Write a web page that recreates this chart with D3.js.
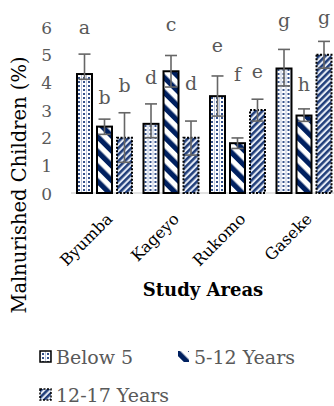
<!DOCTYPE html>
<html><head><meta charset="utf-8">
<script src="https://cdn.jsdelivr.net/npm/d3@7"></script>
<style>body{margin:0;background:#fff}svg{display:block}</style>
</head><body><div id="chart"></div>
<script>
const categories = ["Byumba", "Kageyo", "Rukomo", "Gaseke"];
const seriesNames = ["Below 5", "5-12 Years", "12-17 Years"];
const below5 = [4.3, 2.5, 3.5, 4.5];
const age5to12 = [2.4, 4.4, 1.8, 2.8];
const age12to17 = [2.0, 2.0, 3.0, 5.0];
const errUpBelow5 = [0.72, 0.72, 0.73, 0.69];
const errUp5to12 = [0.27, 0.57, 0.19, 0.24];
const errUp12to17 = [0.9, 0.6, 0.39, 0.48];
const errDownBelow5 = [0.19, 0.5, 0.72, 0.63];
const errDown5to12 = [0.28, 0.57, 0.19, 0.21];
const errDown12to17 = [0.89, 0.63, 0.4, 0.49];
const lettersBelow5 = ["a", "d", "e", "g"];
const letters5to12 = ["b", "c", "f", "h"];
const letters12to17 = ["b", "d", "e", "g"];
const letterLevelBelow5 = [5.93, 4.12, 5.28, 6.18];
const letterLevel5to12 = [3.4, 6.04, 4.23, 3.85];
const letterLevel12to17 = [3.84, 3.9, 4.34, 6.3];
const yTicks = [0, 1, 2, 3, 4, 5, 6];

const series = [
  {name: seriesNames[0], values: below5, up: errUpBelow5, down: errDownBelow5, letters: lettersBelow5, levels: letterLevelBelow5, pat: "p0"},
  {name: seriesNames[1], values: age5to12, up: errUp5to12, down: errDown5to12, letters: letters5to12, levels: letterLevel5to12, pat: "p1"},
  {name: seriesNames[2], values: age12to17, up: errUp12to17, down: errDown12to17, letters: letters12to17, levels: letterLevel12to17, pat: "p2"}
];

const W = 334, H = 406;
const font = "'DejaVu Serif', serif";
const navy = "#002060";
const svg = d3.select("#chart").append("svg").attr("width", W).attr("height", H);
const defs = svg.append("defs");

// Below 5: dotted pattern
const p0 = defs.append("pattern").attr("id", "p0").attr("patternUnits", "userSpaceOnUse")
  .attr("width", 5).attr("height", 4);
p0.append("rect").attr("width", 5).attr("height", 4).attr("fill", "#ffffff");
p0.append("rect").attr("x", 0).attr("width", 1).attr("height", 4).attr("fill", "#b8c4dc");
p0.append("rect").attr("x", 2).attr("y", 1).attr("width", 2).attr("height", 2).attr("fill", "#33508a");
// 5-12: wide "\" stripes
const p1 = defs.append("pattern").attr("id", "p1").attr("patternUnits", "userSpaceOnUse")
  .attr("width", 10.5).attr("height", 10.5).attr("patternTransform", "rotate(-45)");
p1.append("rect").attr("width", 10.5).attr("height", 10.5).attr("fill", "#ffffff");
p1.append("rect").attr("width", 5.2).attr("height", 10.5).attr("fill", navy);
// 12-17: dense "/" stripes
const p2 = defs.append("pattern").attr("id", "p2").attr("patternUnits", "userSpaceOnUse")
  .attr("width", 4.6).attr("height", 4.6).attr("patternTransform", "rotate(45)");
p2.append("rect").attr("width", 4.6).attr("height", 4.6).attr("fill", "#e4eaf4");
p2.append("rect").attr("width", 2.5).attr("height", 4.6).attr("fill", "#1f3d7a");

const x0 = d3.scaleBand().domain(categories).range([71.25, 337.25]).paddingInner(0.143).paddingOuter(0.0715);
const x1 = d3.scaleBand().domain(seriesNames).range([0, x0.bandwidth()]).paddingInner(0.15);
const y = d3.scaleLinear().domain([0, 6]).range([193, 27]);

// Y axis ticks
const yAxis = d3.axisLeft(y).tickValues(yTicks).tickFormat(d3.format("d")).tickSize(0).tickPadding(0);
const gy = svg.append("g").attr("transform", "translate(52,0)").call(yAxis);
gy.select(".domain").remove();
gy.selectAll("text").attr("font-family", font).attr("font-size", 17).attr("fill", "#595959").attr("dy", "0.36em");

// baseline
svg.append("line").attr("x1", 71).attr("x2", 334).attr("y1", y(0)).attr("y2", y(0))
  .attr("stroke", "#d9d9d9").attr("stroke-width", 1.5);

// bars
const groups = svg.append("g").selectAll("g").data(categories).join("g")
  .attr("transform", d => `translate(${x0(d)},0)`);

series.forEach((s, si) => {
  groups.append("rect")
    .attr("x", x1(s.name) + 1)
    .attr("width", x1.bandwidth() - 2)
    .attr("y", (d, i) => y(s.values[i]))
    .attr("height", (d, i) => y(0) - y(s.values[i]))
    .attr("fill", `url(#${s.pat})`)
    .attr("stroke", "#000")
    .attr("stroke-width", 2)
    .attr("stroke-dasharray", si === 2 ? "2,1.5" : null);
});

// error bars and letters
series.forEach((s) => {
  const cx = x1(s.name) + x1.bandwidth() / 2;
  groups.each(function(d, i) {
    const g = d3.select(this);
    const hi = y(s.values[i] + s.up[i]), lo = y(s.values[i] - s.down[i]);
    const e = g.append("g").attr("stroke", "#666666").attr("stroke-width", 1.6);
    e.append("line").attr("x1", cx).attr("x2", cx).attr("y1", hi).attr("y2", lo);
    e.append("line").attr("x1", cx - 6).attr("x2", cx + 6).attr("y1", hi).attr("y2", hi);
    e.append("line").attr("x1", cx - 6).attr("x2", cx + 6).attr("y1", lo).attr("y2", lo);
    g.append("text").attr("x", cx).attr("y", y(s.levels[i]) + 5)
      .attr("text-anchor", "middle").attr("font-family", font).attr("font-size", 19)
      .attr("fill", "#595959").text(s.letters[i]);
  });
});

// category labels
svg.append("g").selectAll("text").data(categories).join("text")
  .attr("transform", d => `translate(${x0(d) + x0.bandwidth() / 2 + 9},220) rotate(-45)`)
  .attr("text-anchor", "end").attr("font-family", font).attr("font-size", 16).attr("fill", "#000")
  .text(d => d);

// axis titles
svg.append("text").attr("x", 203).attr("y", 296).attr("text-anchor", "middle")
  .attr("font-family", font).attr("font-weight", "bold").attr("font-size", 18).attr("fill", "#000")
  .text("Study Areas");
svg.append("text").attr("transform", "translate(26,185) rotate(-90)").attr("text-anchor", "middle")
  .attr("font-family", font).attr("font-size", 19.5).attr("fill", "#000")
  .text("Malnurished Children (%)");

// legend
const legendPos = [[39, 357], [177, 357], [39, 395]];
series.forEach((s, si) => {
  const [lx, ly] = legendPos[si];
  svg.append("rect").attr("x", lx + 1).attr("y", ly - 6).attr("width", 11).attr("height", 11)
    .attr("fill", `url(#${s.pat})`).attr("stroke", si === 1 ? "none" : "#000").attr("stroke-width", 1.5)
    .attr("stroke-dasharray", si === 2 ? "2,1.5" : null);
  svg.append("text").attr("x", lx + 17).attr("y", ly).attr("dy", "0.36em")
    .attr("font-family", font).attr("font-size", 19).attr("fill", "#595959").text(s.name);
});
</script></body></html>
